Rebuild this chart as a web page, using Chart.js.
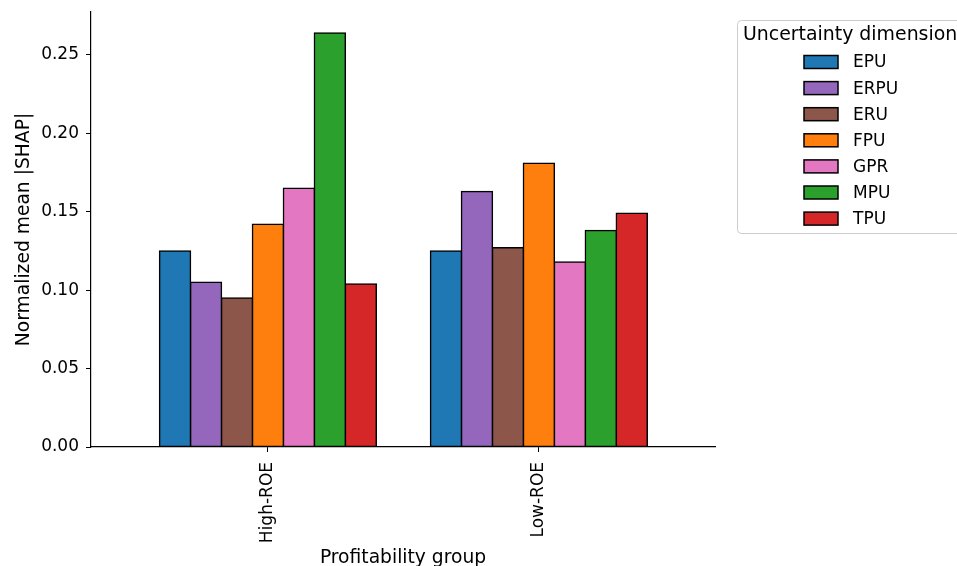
<!DOCTYPE html>
<html>
<head>
<meta charset="utf-8">
<script src="https://cdn.jsdelivr.net/npm/chart.js@4"></script>
<style>
  html, body { margin: 0; padding: 0; background: #fff; overflow: hidden; }
  #wrap { width: 957px; height: 566px; }
</style>
</head>
<body>
<div id="wrap"><canvas id="chart" width="957" height="566"></canvas></div>
<script>
const groups = ["High-ROE", "Low-ROE"];
const dimensions = ["EPU", "ERPU", "ERU", "FPU", "GPR", "MPU", "TPU"];
const colors = ["#1f77b4", "#9467bd", "#8c564b", "#ff7f0e", "#e377c2", "#2ca02c", "#d62728"];
// one array per dimension: [High-ROE, Low-ROE]
const epu = [0.125, 0.125];
const erpu = [0.105, 0.163];
const eru = [0.095, 0.127];
const fpu = [0.142, 0.181];
const gpr = [0.165, 0.118];
const mpu = [0.264, 0.138];
const tpu = [0.104, 0.149];
const yTicks = [0, 0.05, 0.10, 0.15, 0.20, 0.25];

const seriesValues = [epu, erpu, eru, fpu, gpr, mpu, tpu];
const FONT = "'DejaVu Sans', sans-serif";

// matplotlib-like framed legend with a title
const frameLegend = {
  id: "frameLegend",
  afterDraw(chart) {
    const ctx = chart.ctx;
    const area = chart.chartArea;
    const x0 = area.right + 22, y0 = 20, w = 260, h = 213;
    ctx.save();
    ctx.beginPath();
    ctx.roundRect(x0 + 0.5, y0 + 0.5, w, h, 4);
    ctx.fillStyle = "rgba(255,255,255,0.8)";
    ctx.fill();
    ctx.strokeStyle = "#cccccc";
    ctx.lineWidth = 1;
    ctx.stroke();

    ctx.fillStyle = "#000";
    ctx.font = "18.9px " + FONT;
    ctx.textBaseline = "middle";
    ctx.textAlign = "left";
    ctx.fillText("Uncertainty dimension", x0 + 6, y0 + 15);

    ctx.font = "17px " + FONT;
    chart.data.datasets.forEach((ds, i) => {
      const cy = y0 + 42 + i * 26.1;
      ctx.fillStyle = ds.backgroundColor;
      ctx.fillRect(x0 + 67, cy - 6.5, 34, 13);
      ctx.strokeStyle = "#000";
      ctx.lineWidth = 1.5;
      ctx.strokeRect(x0 + 67, cy - 6.5, 34, 13);
      ctx.fillStyle = "#000";
      ctx.fillText(ds.label, x0 + 116, cy + 1);
    });
    ctx.restore();
  }
};

new Chart(document.getElementById("chart"), {
  type: "bar",
  data: {
    datasets: dimensions.map((label, i) => ({
      label,
      data: groups.map((g, j) => ({ x: j, y: seriesValues[i][j] })),
      backgroundColor: colors[i],
      borderColor: "#000",
      borderWidth: 1.5,
      borderSkipped: false,
      inflateAmount: 0.75,
      categoryPercentage: 0.8,
      barPercentage: 1.0,
    })),
  },
  options: {
    responsive: false,
    animation: false,
    layout: { padding: { left: 0, right: 242, top: 12, bottom: 0 } },
    plugins: {
      legend: { display: false },
      tooltip: { enabled: false },
    },
    scales: {
      x: {
        type: "linear",
        offset: false,
        min: -0.653,
        max: 1.65,
        afterBuildTicks(scale) {
          scale.ticks = groups.map((g, i) => ({ value: i }));
        },
        afterFit(scale) {
          scale.height = 119;
          scale.paddingLeft = 0;
          scale.paddingRight = 0;
        },
        grid: { display: true, offset: false, drawOnChartArea: false, drawTicks: true, tickLength: 5, color: "#000", tickWidth: 1 },
        border: { display: true, color: "#000", width: 1.2, z: 1 },
        ticks: {
          autoSkip: false,
          maxRotation: 90,
          minRotation: 90,
          padding: 10,
          color: "#000",
          font: { family: FONT, size: 17 },
          callback: (v) => groups[v] ?? "",
        },
        title: {
          display: true,
          text: "Profitability group",
          color: "#000",
          font: { family: FONT, size: 18.7 },
          padding: { top: 0, bottom: -3 },
        },
      },
      y: {
        min: 0,
        max: 0.2774,
        afterBuildTicks(scale) {
          scale.ticks = yTicks.map((v) => ({ value: v }));
        },
        afterFit(scale) {
          scale.width = 91;
          scale.paddingTop = 0;
          scale.paddingBottom = 0;
        },
        grid: { display: true, drawOnChartArea: false, drawTicks: true, tickLength: 5, color: "#000", tickWidth: 1 },
        border: { display: true, color: "#000", width: 1.2 },
        ticks: {
          padding: 7,
          color: "#000",
          font: { family: FONT, size: 17 },
          callback: (v) => v.toFixed(2),
        },
        title: {
          display: true,
          text: "Normalized mean |SHAP|",
          color: "#000",
          font: { family: FONT, size: 18.7 },
          padding: { top: 13, bottom: 0 },
        },
      },
    },
  },
  plugins: [frameLegend],
});
</script>
</body>
</html>
